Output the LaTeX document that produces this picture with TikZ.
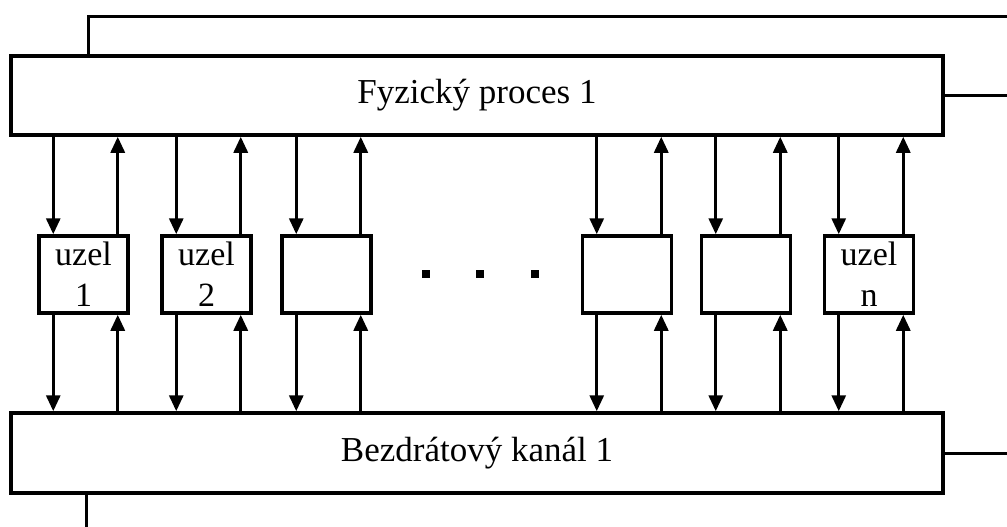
\documentclass[tikz,border=0pt]{standalone}
\usepackage{fontspec}
\setmainfont{Liberation Serif}
\usetikzlibrary{arrows.meta,calc}
\begin{document}
\begin{tikzpicture}[x=1pt,y=-1pt,
  bigbox/.style={draw,line width=3.5pt,minimum width=932pt,inner sep=0pt,font=\fontsize{35}{40}\selectfont},
  nodebox/.style={draw,line width=3.5pt,minimum width=89pt,minimum height=77pt,inner sep=0pt,align=center,font=\fontsize{34}{41}\selectfont},
  arr/.style={line width=3pt,-{Triangle[length=16pt,width=14pt]}},
  wire/.style={line width=3pt},
  dotsq/.style={fill=black,minimum size=8pt,inner sep=0pt}]
\useasboundingbox (0,0) rectangle (1007,527);
\node[bigbox,minimum height=79pt] (top) at (477,95.5) {Fyzický proces 1};
\node[bigbox,minimum height=80pt] (bot) at (477,453) {Bezdrátový kanál 1};
\node[nodebox] (n1) at (83.5,274.5) {uzel\\1};
\node[nodebox] (n2) at (206.5,274.5) {uzel\\2};
\node[nodebox] (n3) at (326.5,274.5) {};
\node[nodebox] (n4) at (627,274.5) {};
\node[nodebox] (n5) at (746,274.5) {};
\node[nodebox] (n6) at (869,274.5) {uzel\\n};
\node[dotsq] (d1) at (426,274) {};
\node[dotsq] (d2) at (480,274) {};
\node[dotsq] (d3) at (535,274) {};
\foreach \n in {n1,n2,n3,n4,n5,n6}{
  \coordinate (\n-a) at ($(\n.north west)+(16,0)$);
  \coordinate (\n-b) at ($(\n.north east)+(-12,0)$);
  \draw[arr] (\n-a |- top.south) -- (\n-a);
  \draw[arr] (\n-b) -- (\n-b |- top.south);
  \draw[arr] (\n-a |- \n.south) -- (\n-a |- bot.north);
  \draw[arr] (\n-b |- bot.north) -- (\n-b |- \n.south);
}
\coordinate (tl) at (88,17);
\coordinate (tr) at (1010,17);
\coordinate (bl) at (86,530);
\draw[wire] (tl |- top.north) -- (tl) -- (tr);
\draw[wire] (top.east) -- (top.east -| tr);
\draw[wire] (bot.east) -- (bot.east -| tr);
\draw[wire] (bl |- bot.south) -- (bl);
\end{tikzpicture}
\end{document}
